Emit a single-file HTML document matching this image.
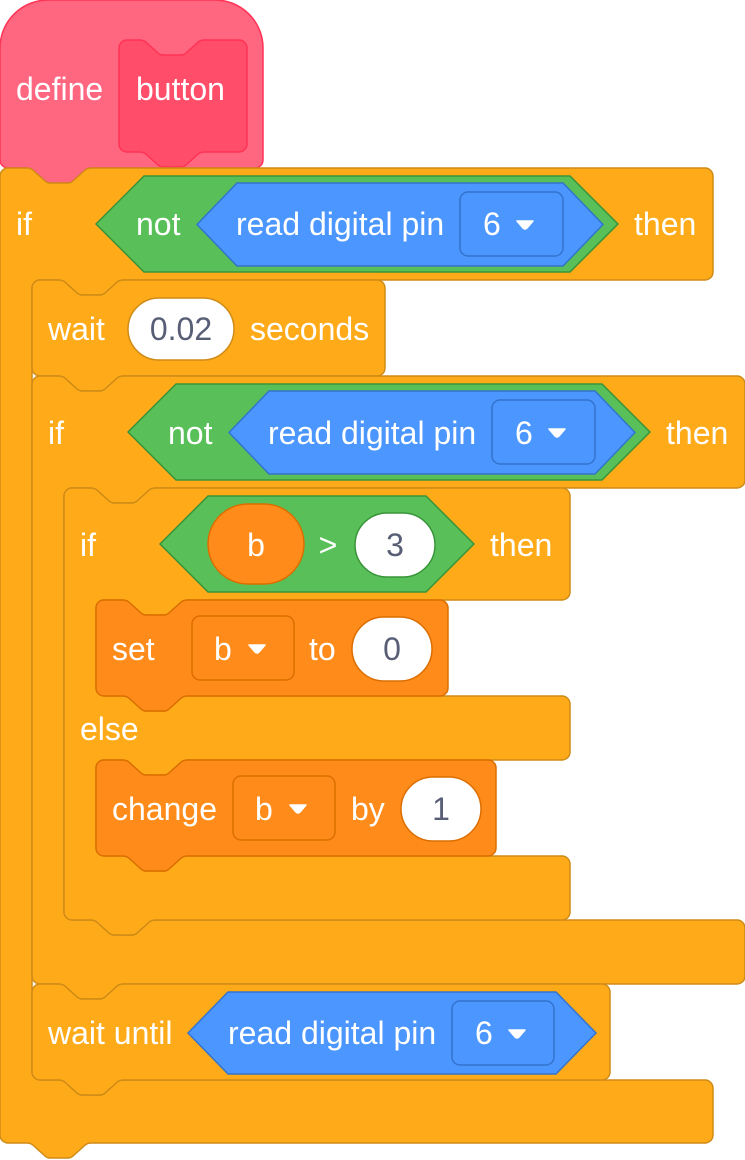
<!DOCTYPE html>
<html><head><meta charset="utf-8"><style>
html,body{margin:0;padding:0;background:#fff}
svg{display:block}
text{font-family:"Liberation Sans",Arial,sans-serif;font-size:32px;fill:#fff}
.g{fill:#575E75}
</style></head><body>
<svg id="s" width="745" height="1160" viewBox="0 0 745 1160" xmlns="http://www.w3.org/2000/svg">
<g id="shapes"></g>
<g id="txt">
<text x="16" y="100">define</text>
<text x="136" y="100">button</text>
<text x="16" y="235">if</text>
<text x="136" y="235">not</text>
<text x="236" y="235">read digital pin</text>
<text x="483" y="235">6</text>
<text x="634" y="235">then</text>
<text x="48" y="340">wait</text>
<text x="181" y="340" text-anchor="middle" class="g">0.02</text>
<text x="250" y="340">seconds</text>
<text x="48" y="444">if</text>
<text x="168" y="444">not</text>
<text x="268" y="444">read digital pin</text>
<text x="515" y="444">6</text>
<text x="666" y="444">then</text>
<text x="80" y="556">if</text>
<text x="256" y="556" text-anchor="middle">b</text>
<text x="328" y="556" text-anchor="middle">&gt;</text>
<text x="395" y="556" text-anchor="middle" class="g">3</text>
<text x="490" y="556">then</text>
<text x="112" y="660">set</text>
<text x="214" y="660">b</text>
<text x="309" y="660">to</text>
<text x="392" y="660" text-anchor="middle" class="g">0</text>
<text x="80" y="740">else</text>
<text x="112" y="820">change</text>
<text x="255" y="820">b</text>
<text x="351" y="820">by</text>
<text x="441" y="820" text-anchor="middle" class="g">1</text>
<text x="48" y="1044">wait until</text>
<text x="228" y="1044">read digital pin</text>
<text x="475" y="1044">6</text>
</g>
</svg>
<script>
var ND="c4,0 6,2 8,4 l10,9 c2,2 4,2 7,2 h14 c3,0 5,0 7,-2 l10,-9 c2,-2 4,-4 8,-4";
var NU="c-4,0 -6,2 -8,4 l-10,9 c-2,2 -4,2 -7,2 h-14 c-3,0 -5,0 -7,-2 l-10,-9 c-2,-2 -4,-4 -8,-4";
var out="";
function P(d,f,s){out+='<path d="'+d+'" fill="'+f+'" stroke="'+s+'" stroke-width="1.5"/>';}
function stack(x,y,w,h,o){o=o||27;return "M"+x+","+(y+8)+" a8,8 0 0 1 8,-8 H"+(x+o)+" "+ND+" H"+(x+w-8)+" a8,8 0 0 1 8,8 V"+(y+h-8)+" a8,8 0 0 1 -8,8 H"+(x+o+64)+" "+NU+" H"+(x+8)+" a8,8 0 0 1 -8,-8 Z";}
function cb(x,y,bars,mouths){
 var d="M"+x+","+(y+8)+" a8,8 0 0 1 8,-8 H"+(x+27)+" "+ND+" H"+(x+bars[0][0]-8)+" a8,8 0 0 1 8,8";
 var cy=y;
 for(var i=0;i<bars.length;i++){
  cy+=bars[i][1];
  d+=" V"+(cy-8)+" a8,8 0 0 1 -8,8";
  if(i<bars.length-1){
   d+=" H"+(x+32+91)+" "+NU+" H"+(x+40)+" a8,8 0 0 0 -8,8";
   cy+=mouths[i];
   d+=" V"+(cy-8)+" a8,8 0 0 0 8,8 H"+(x+32+27)+" "+ND+" H"+(x+bars[i+1][0]-8)+" a8,8 0 0 1 8,8";
  } else {
   d+=" H"+(x+91)+" "+NU+" H"+(x+8)+" a8,8 0 0 1 -8,-8 Z";
  }
 }
 return d;
}
function hex(x1,y1,x2,y2,k){var m=(y1+y2)/2;return "M"+x1+","+m+" L"+(x1+k)+","+y1+" H"+(x2-k)+" L"+x2+","+m+" L"+(x2-k)+","+y2+" H"+(x1+k)+" Z";}
function rr(x,y,w,h,r,f,s){out+='<rect x="'+x+'" y="'+y+'" width="'+w+'" height="'+h+'" rx="'+r+'" fill="'+f+'" stroke="'+s+'" stroke-width="1.5"/>';}
function arrow(x,y){out+='<path d="M'+x+','+y+' h16 l-6,7 q-2,2 -4,0 Z" fill="#fff" stroke="#fff" stroke-width="1.5" stroke-linejoin="round"/>';}
var O="#FFAB19",OS="#CF8B17",G="#59C059",GS="#389438",B="#4C97FF",BS="#3373CC",V="#FF8C1A",VS="#DB6E00";
P("M0,48 a48,48 0 0 1 48,-48 H215 a48,48 0 0 1 48,48 V160 a8,8 0 0 1 -8,8 H91 "+NU+" H8 a8,8 0 0 1 -8,-8 Z","#FF6680","#FF3355");
P(stack(119,40,128,112,21),"#FF4D6A","#FF3355");
P(cb(0,168,[[713,112],[713,63]],[800]),O,OS);
P(hex(96,176,618,272,48),G,GS);
P(hex(197,183,603,266,40),B,BS);
rr(460,192,103,64,8,B,BS); arrow(517,221);
P(stack(32,280,353,96),O,OS);
rr(128,298,106,62,31,"#fff",OS);
P(cb(32,376,[[713,112],[713,64]],[432]),O,OS);
P(hex(128,384,650,480,48),G,GS);
P(hex(229,391,635,474,40),B,BS);
rr(492,400,103,64,8,B,BS); arrow(549,429);
P(cb(64,488,[[506,112],[506,64],[506,64]],[96,96]),O,OS);
P(hex(160,496,474,592,48),G,GS);
rr(208,504,96,80,40,V,VS);
rr(355,513,80,64,32,"#fff",GS);
P(stack(96,600,352,96),V,VS);
rr(192,616,102,64,8,V,VS); arrow(249,645);
rr(352,617,80,64,32,"#fff",VS);
P(stack(96,760,400,96),V,VS);
rr(233,776,102,64,8,V,VS); arrow(290,805);
rr(401,777,80,64,32,"#fff",VS);
P(stack(32,984,578,96),O,OS);
P(hex(188,992,596,1074,40),B,BS);
rr(452,1001,102,64,8,B,BS); arrow(509,1030);
document.getElementById("shapes").innerHTML=out;
</script>
</body></html>
